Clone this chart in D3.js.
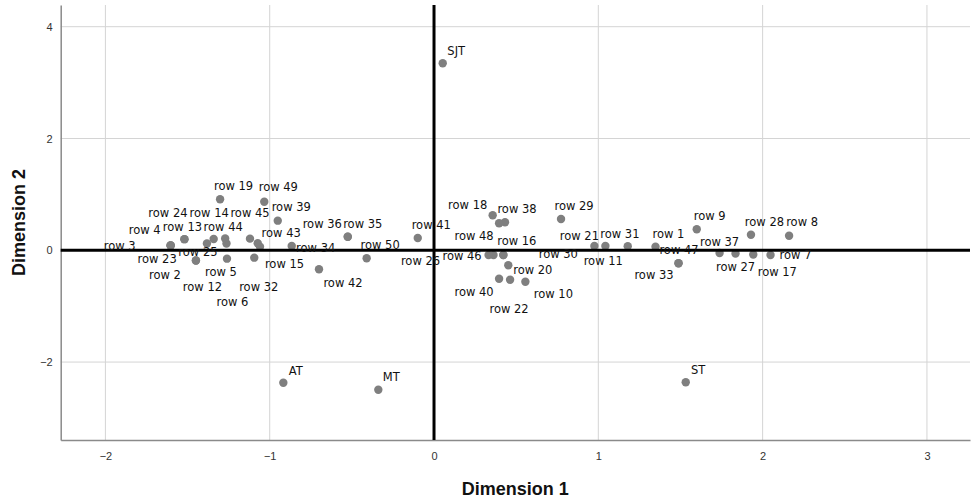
<!DOCTYPE html>
<html>
<head>
<meta charset="utf-8">
<script src="https://cdn.jsdelivr.net/npm/d3@7"></script>
<style>
  body { margin: 0; background: #fff; }
  svg { display: block; }
</style>
</head>
<body>
<div id="chart"></div>
<script>
// point names and coordinates
var labels = ["row 1","row 2","row 3","row 4","row 5","row 6","row 7","row 8","row 9","row 10",
  "row 11","row 12","row 13","row 14","row 15","row 16","row 17","row 18","row 19","row 20",
  "row 21","row 22","row 23","row 24","row 25","row 26","row 27","row 28","row 29","row 30",
  "row 31","row 32","row 33","row 34","row 35","row 36","row 37","row 38","row 39","row 40",
  "row 41","row 42","row 43","row 44","row 45","row 46","row 47","row 48","row 49","row 50",
  "SJT","AT","MT","ST"];
var dim1 = [1.348,-1.449,-1.603,-1.603,-1.260,-1.263,2.048,2.161,1.599,0.556,
  1.179,-1.449,-1.519,-1.341,-1.059,0.422,1.943,0.357,-1.302,0.452,
  0.976,0.463,-1.603,-1.519,-1.382,0.362,1.835,1.929,0.773,0.422,
  1.043,-1.094,1.488,-0.866,-0.525,-0.525,1.738,0.432,-0.951,0.396,
  -0.099,-0.700,-1.073,-1.271,-1.120,0.332,1.488,0.396,-1.033,-0.410,
  0.053,-0.917,-0.339,1.532];
var dim2 = [0.063,-0.182,0.086,0.086,-0.150,0.122,-0.084,0.261,0.376,-0.562,
  0.072,-0.182,0.199,0.202,0.064,-0.084,-0.075,0.626,0.912,-0.268,
  0.077,-0.526,0.086,0.199,0.122,-0.084,-0.057,0.277,0.560,-0.084,
  0.077,-0.132,-0.231,0.077,0.243,0.243,-0.048,0.501,0.530,-0.508,
  0.220,-0.340,0.125,0.211,0.208,-0.084,-0.231,0.483,0.869,-0.143,
  3.345,-2.369,-2.494,-2.361];
var xTicks = [-2, -1, 0, 1, 2, 3];
var yTicks = [-2, 0, 2, 4];

// where each label sits relative to its point (px, label centre), as laid out in the original
var nudge = {
  "row 1":[13,-13.5],"row 2":[-31,14],"row 3":[-51,0.5],"row 4":[-26,-15.5],"row 5":[-6,13],
  "row 6":[6,58],"row 7":[25,0],"row 8":[13,-13.5],"row 9":[13,-14],"row 10":[28,12.5],
  "row 11":[-24.5,14],"row 12":[6.5,26],"row 13":[-2,-12.5],"row 14":[-4.5,-26.5],"row 15":[24.5,16.5],
  "row 16":[13.5,-14],"row 17":[24,17],"row 18":[-25,-10.5],"row 19":[13.5,-13.5],"row 20":[24.5,4],
  "row 21":[-15,-10],"row 22":[-1,29.5],"row 23":[-13.5,13],"row 24":[-16.5,-26.5],"row 25":[-9,8],
  "row 26":[-73,5.5],"row 27":[0,13],"row 28":[13.5,-13],"row 29":[13,-13.5],"row 30":[55,-1.5],
  "row 31":[14.5,-12.5],"row 32":[4.5,29],"row 33":[-24.5,12],"row 34":[24,1.5],"row 35":[15,-12.5],
  "row 36":[-25.5,-12.5],"row 37":[0,-11],"row 38":[12,-14],"row 39":[13.5,-14],"row 40":[-25,13],
  "row 41":[13.5,-13],"row 42":[24,13],"row 43":[23.5,-10.5],"row 44":[-2,-12],"row 45":[0,-25.5],
  "row 46":[-26.5,0.5],"row 47":[0.5,-13],"row 48":[-25,12.5],"row 49":[14,-15],"row 50":[13.5,-13.5],
  "SJT":[13.5,-12.5],"AT":[12.5,-12.5],"MT":[13,-13],"ST":[12.5,-12.5]
};

var width = 971, height = 502;
var plot = {left: 60.7, right: 970, top: 5, bottom: 440};

var svg = d3.select("#chart").append("svg")
  .attr("width", width)
  .attr("height", height);

var x = d3.scaleLinear().domain([-2.272, 3.262]).range([plot.left, plot.right]);
var y = d3.scaleLinear().domain([-3.394, 4.388]).range([plot.bottom, plot.top]);

var points = labels.map(function(l, i) { return {name: l, d1: dim1[i], d2: dim2[i]}; });

// grid
svg.append("g").selectAll("line.vx")
  .data(xTicks.filter(function(t) { return t !== 0; }))
  .enter().append("line")
  .attr("x1", function(d) { return x(d); }).attr("x2", function(d) { return x(d); })
  .attr("y1", plot.top).attr("y2", plot.bottom)
  .attr("stroke", "#d4d4d4").attr("stroke-width", 1);

svg.append("g").selectAll("line.hy")
  .data(yTicks.filter(function(t) { return t !== 0; }))
  .enter().append("line")
  .attr("x1", plot.left).attr("x2", plot.right)
  .attr("y1", function(d) { return y(d); }).attr("y2", function(d) { return y(d); })
  .attr("stroke", "#d4d4d4").attr("stroke-width", 1);

// axes (no tick marks, just labels)
var xAxis = d3.axisBottom(x).tickValues(xTicks).tickSize(0).tickPadding(12).tickFormat(d3.format("d"));
var yAxis = d3.axisLeft(y).tickValues(yTicks).tickSize(0).tickPadding(8).tickFormat(d3.format("d"));

var gx = svg.append("g").attr("transform", "translate(0," + plot.bottom + ")").call(xAxis);
var gy = svg.append("g").attr("transform", "translate(" + plot.left + ",0)").call(yAxis);

[gx, gy].forEach(function(g) {
  g.select(".domain").attr("stroke", "#8a8a8a").attr("stroke-width", 1.5);
  g.selectAll("text")
    .attr("fill", "#333")
    .style("font-family", "'Liberation Sans', Arial, sans-serif")
    .style("font-size", "11px");
});

// points
svg.append("g").selectAll("circle")
  .data(points)
  .enter().append("circle")
  .attr("cx", function(d) { return x(d.d1); })
  .attr("cy", function(d) { return y(d.d2); })
  .attr("r", 4.2)
  .attr("fill", "#7f7f7f");

// reference lines through the origin
svg.append("line")
  .attr("x1", plot.left).attr("x2", plot.right)
  .attr("y1", y(0)).attr("y2", y(0))
  .attr("stroke", "#000").attr("stroke-width", 3);
svg.append("line")
  .attr("x1", x(0)).attr("x2", x(0))
  .attr("y1", plot.top).attr("y2", plot.bottom)
  .attr("stroke", "#000").attr("stroke-width", 3);

// point labels
svg.append("g").selectAll("text")
  .data(points)
  .enter().append("text")
  .attr("x", function(d) { return x(d.d1) + nudge[d.name][0]; })
  .attr("y", function(d) { return y(d.d2) + nudge[d.name][1] + 4.3; })
  .attr("text-anchor", "middle")
  .style("font-family", "'DejaVu Sans', Verdana, sans-serif")
  .style("font-size", "11.5px")
  .attr("fill", "#111")
  .text(function(d) { return d.name; });

// axis titles
svg.append("text")
  .attr("x", (plot.left + plot.right) / 2)
  .attr("y", 495)
  .attr("text-anchor", "middle")
  .style("font-family", "'Liberation Sans', Arial, sans-serif")
  .style("font-size", "18px")
  .style("font-weight", "bold")
  .attr("fill", "#111")
  .text("Dimension 1");

svg.append("text")
  .attr("transform", "translate(25," + (plot.top + plot.bottom) / 2 + ") rotate(-90)")
  .attr("text-anchor", "middle")
  .style("font-family", "'Liberation Sans', Arial, sans-serif")
  .style("font-size", "18px")
  .style("font-weight", "bold")
  .attr("fill", "#111")
  .text("Dimension 2");
</script>
</body>
</html>
